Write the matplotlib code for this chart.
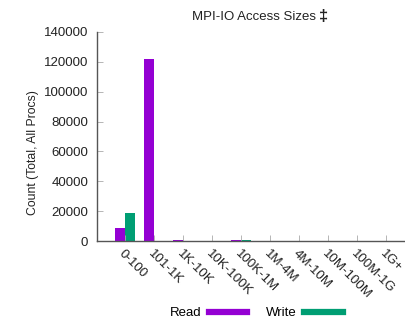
import numpy as np
import matplotlib
matplotlib.use("Agg")
import matplotlib.pyplot as plt

plt.rcParams['font.family'] = ['Liberation Sans', 'DejaVu Sans']

categories = ["0-100", "101-1K", "1K-10K", "10K-100K", "100K-1M",
              "1M-4M", "4M-10M", "10M-100M", "100M-1G", "1G+"]
read_counts = [9000, 122000, 800, 0, 800, 200, 0, 0, 0, 0]
write_counts = [19000, 0, 0, 0, 700, 0, 0, 0, 0, 0]
y_ticks = [0, 20000, 40000, 60000, 80000, 100000, 120000, 140000]

read_color = "#9400D3"
write_color = "#009E73"
axis_color = "#555555"

fig = plt.figure(figsize=(4.05, 3.21), dpi=100)
ax = fig.add_axes([96.5 / 405, 1 - 241 / 321, (405 - 96.5) / 405, (241 - 32) / 321])

x = np.arange(len(categories))
w = 0.33
ax.bar(x - w / 2, read_counts, width=w, color=read_color, label="Read")
ax.bar(x + w / 2, write_counts, width=w, color=write_color, label="Write")

ax.set_xlim(-0.98, 9.65)
ax.set_ylim(0, 140000)
ax.set_yticks(y_ticks)
ax.set_yticklabels([str(v) for v in y_ticks], fontsize=9.5, color="#222222")
ax.set_xticks(x)
ax.set_xticklabels(categories, rotation=-45, ha="left", va="top",
                   rotation_mode="anchor", fontsize=9.5, color="#222222")

for side in ("top", "right"):
    ax.spines[side].set_visible(False)
for side in ("left", "bottom"):
    ax.spines[side].set_color(axis_color)
    ax.spines[side].set_linewidth(1.0)
ax.tick_params(axis="both", direction="in", length=4, width=0.6, color="#aaaaaa")
ax.tick_params(axis="y", pad=6)
ax.tick_params(axis="x", pad=5)

fig.text(254 / 405, 1 - 17 / 321, "MPI-IO Access Sizes", ha="right",
         va="center", fontsize=9.5, color="#222222",
         position=(316 / 405, 1 - 17 / 321))
fig.text(319 / 405, 1 - 16 / 321, "\u2021", ha="left", va="center",
         fontsize=12, fontweight="bold", color="#222222")
fig.text(33 / 405, 1 - 153 / 321, "Count (Total, All Procs)", rotation=90,
         ha="center", va="center", fontsize=8.8, color="#222222")

handles = [plt.Line2D([], [], color=read_color, lw=4.5),
           plt.Line2D([], [], color=write_color, lw=4.5)]
fig.legend(handles, ["Read", "Write"], loc="center",
           bbox_to_anchor=(256 / 405, 1 - 313 / 321), ncol=2, frameon=False,
           markerfirst=False, handlelength=2.9, handletextpad=0.6,
           columnspacing=1.4, fontsize=9.5)

fig.savefig("out.png", dpi=100)
